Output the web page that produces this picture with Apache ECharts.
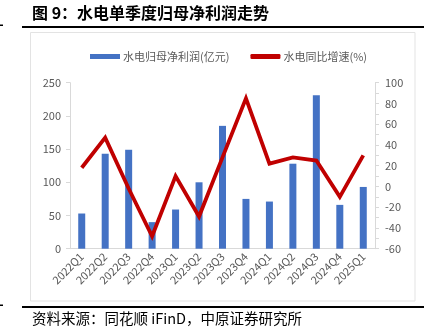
<!DOCTYPE html>
<html>
<head>
<meta charset="utf-8">
<style>
  html, body { margin: 0; padding: 0; background: #fff; }
  #chart { width: 436px; height: 332px; }
</style>
<script src="https://cdn.jsdelivr.net/npm/echarts@6/dist/echarts.min.js"></script>
</head>
<body>
<div id="chart"></div>
<script>
// 季度
const quarters = ['2022Q1', '2022Q2', '2022Q3', '2022Q4', '2023Q1', '2023Q2', '2023Q3',
  '2023Q4', '2024Q1', '2024Q2', '2024Q3', '2024Q4', '2025Q1'];
// 水电归母净利润（亿元）
const netProfit = [53, 143, 149, 40, 59, 100, 185, 75, 71, 128, 231, 66, 93];
// 水电同比增速（%）
const yoyGrowth = [18, 47, -2, -48, 10, -29, 28, 85, 22, 28, 25, -10, 30];
// 坐标轴刻度
const leftTicks = { min: 0, max: 250, interval: 50 };
const rightTicks = { min: -60, max: 100, interval: 20 };

const font = '"Noto Sans CJK SC", "Noto Sans", sans-serif';
const gray = '#595959';
const axisGray = '#d9d9d9';

const chart = echarts.init(document.getElementById('chart'), null, { renderer: 'canvas' });

chart.setOption({
  animation: false,
  textStyle: { fontFamily: font },
  graphic: [
    { type: 'text', left: 32, top: 5,
      style: { text: '图 9：水电单季度归母净利润走势', font: 'bold 16px ' + font, fill: '#000' } },
    { type: 'rect', shape: { x: 22, y: 26, width: 402, height: 2 }, style: { fill: '#000' } },
    { type: 'rect', shape: { x: 0, y: 24.5, width: 3, height: 1.5 }, style: { fill: '#000' } },
    { type: 'rect', shape: { x: 30.5, y: 32.5, width: 384.5, height: 268.5 },
      style: { fill: 'none', stroke: '#e3e3e3', lineWidth: 1 } },
    { type: 'rect', shape: { x: 22, y: 306, width: 402, height: 2 }, style: { fill: '#000' } },
    { type: 'rect', shape: { x: 0, y: 304.5, width: 3, height: 1.5 }, style: { fill: '#000' } },
    { type: 'text', left: 32, top: 311,
      style: { text: '资料来源：同花顺 iFinD，中原证券研究所', font: '14.5px ' + font, fill: '#000' } }
  ],
  legend: {
    left: 85, top: 46,
    itemWidth: 30, itemHeight: 5, itemGap: 21,
    textStyle: { fontSize: 11, color: gray, fontFamily: font, padding: [0, 0, 0, -2] },
    data: [
      { name: '水电归母净利润(亿元)', icon: 'rect' },
      { name: '水电同比增速(%)', icon: 'roundRect' }
    ]
  },
  grid: { left: 70, right: 61, top: 82.7, bottom: 83.3 },
  xAxis: {
    type: 'category',
    data: quarters,
    axisLine: { lineStyle: { color: axisGray, width: 1 } },
    axisTick: { show: false },
    axisLabel: { interval: 0, rotate: 45, fontSize: 11, color: gray, margin: 6, fontFamily: font }
  },
  yAxis: [
    {
      type: 'value', position: 'left',
      min: leftTicks.min, max: leftTicks.max, interval: leftTicks.interval,
      axisLine: { show: true, lineStyle: { color: axisGray } },
      axisTick: { show: true, length: 4, lineStyle: { color: axisGray } },
      axisLabel: { fontSize: 11, color: gray, margin: 9, fontFamily: font },
      splitLine: { show: false }
    },
    {
      type: 'value', position: 'right',
      min: rightTicks.min, max: rightTicks.max, interval: rightTicks.interval,
      axisLine: { show: true, lineStyle: { color: axisGray } },
      axisTick: { show: true, length: 4, lineStyle: { color: axisGray } },
      minorTick: { show: true, splitNumber: 2, length: 4, lineStyle: { color: axisGray } },
      axisLabel: { fontSize: 11, color: gray, margin: 10, fontFamily: font },
      splitLine: { show: false }
    }
  ],
  series: [
    {
      name: '水电归母净利润(亿元)',
      type: 'bar',
      yAxisIndex: 0,
      data: netProfit,
      barWidth: 7,
      itemStyle: { color: '#4472C4' }
    },
    {
      name: '水电同比增速(%)',
      type: 'line',
      yAxisIndex: 1,
      data: yoyGrowth,
      symbol: 'none',
      lineStyle: { color: '#C00000', width: 3.8, join: 'miter' },
      itemStyle: { color: '#C00000' }
    }
  ]
});
</script>
</body>
</html>
